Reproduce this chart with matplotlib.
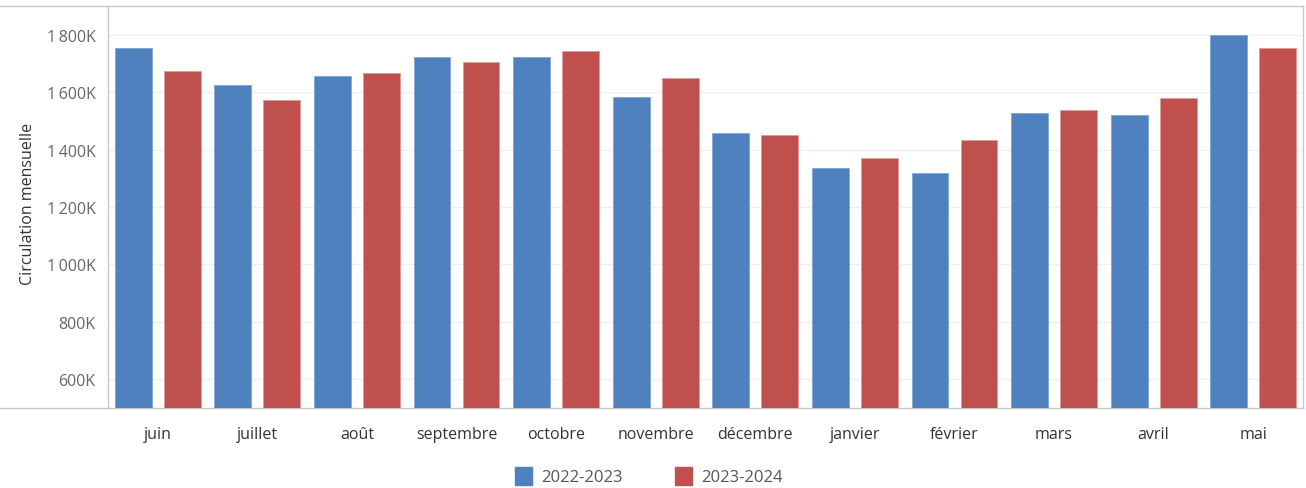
import numpy as np
import matplotlib
matplotlib.use("Agg")
import matplotlib.pyplot as plt
from matplotlib.lines import Line2D
from matplotlib.patches import Rectangle
from matplotlib.ticker import FuncFormatter

plt.rcParams['font.family'] = ['Open Sans', 'DejaVu Sans']

months = ["juin", "juillet", "août", "septembre", "octobre", "novembre",
          "décembre", "janvier", "février", "mars", "avril", "mai"]
s2223 = [1755, 1624, 1657, 1722, 1722, 1583, 1457, 1337, 1319, 1527, 1519, 1798]
s2324 = [1675, 1574, 1666, 1705, 1742, 1648, 1452, 1370, 1435, 1537, 1579, 1755]
series_names = ["2022-2023", "2023-2024"]

blue = "#4E81BD"
red = "#C0504D"
frame = "#c8c8c8"

fig = plt.figure(figsize=(13.06, 4.89), dpi=100)
ax = fig.add_axes([108 / 1306, 1 - 409 / 489, (1303 - 108) / 1306, (409 - 7) / 489])

x = np.arange(len(months))
w = 0.37
off = 0.246
ax.bar(x - off, np.array(s2223) * 1000, w, color=blue, edgecolor="#7fa6d6", linewidth=0.6, zorder=3)
ax.bar(x + off, np.array(s2324) * 1000, w, color=red, edgecolor="#e09a98", linewidth=0.6, zorder=3)

ax.set_xlim(-0.5, len(months) - 0.5)
ax.set_ylim(500000, 1900000)
ax.set_yticks(np.arange(600000, 1800001, 200000))
ax.yaxis.set_major_formatter(FuncFormatter(
    lambda v, p: ("{:,}K".format(int(round(v / 1000)))).replace(",", "\u2009")))
ax.set_xticks(x)
ax.set_xticklabels(months)

ax.grid(axis="y", color="#f0f0f0", linewidth=1, zorder=0)
ax.tick_params(axis="both", length=0)
ax.tick_params(axis="y", labelsize=11.5, labelcolor="#666666", pad=9)
ax.tick_params(axis="x", labelsize=11.5, labelcolor="#333333", pad=13)

for s in ["left", "bottom", "top", "right"]:
    ax.spines[s].set_color(frame)
    ax.spines[s].set_linewidth(1)

ax.set_ylabel("Circulation mensuelle", fontsize=11.5, color="#333333")
ax.yaxis.set_label_coords(-0.0605, 0.51)

# header lines extending to the left edge, like the original dashboard
fig.add_artist(Line2D([0, 108 / 1306], [1 - 7 / 489] * 2, color=frame, lw=1))
fig.add_artist(Line2D([0, 108 / 1306], [1 - 409 / 489] * 2, color=frame, lw=1))

# legend
for i, (name, col) in enumerate(zip(series_names, [blue, red])):
    x0 = (515 + i * 160) / 1306
    fig.add_artist(Rectangle((x0, 1 - 486 / 489), 17 / 1306, 18 / 489,
                             transform=fig.transFigure, color=col))
    fig.text(x0 + 26 / 1306, 1 - 478 / 489, name, fontsize=12, color="#555555",
             va="center", ha="left")

fig.savefig("out.png", dpi=100)
